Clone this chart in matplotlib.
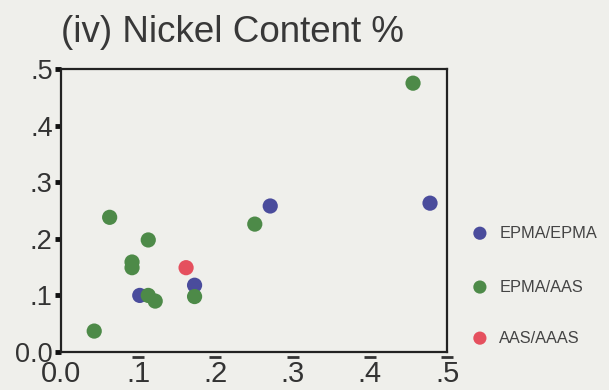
import numpy as np
import matplotlib.pyplot as plt
import matplotlib.transforms as mtransforms

# valores
epma_epma_x = [0.478, 0.271, 0.173, 0.102]
epma_epma_y = [0.263, 0.258, 0.118, 0.100]
epma_aas_x = [0.456, 0.251, 0.063, 0.113, 0.092, 0.092, 0.173, 0.113, 0.122, 0.043]
epma_aas_y = [0.475, 0.226, 0.238, 0.198, 0.159, 0.149, 0.098, 0.100, 0.090, 0.037]
aas_aaas_x = [0.162]
aas_aaas_y = [0.149]

series_labels = ['EPMA/EPMA', 'EPMA/AAS', 'AAS/AAAS']
series_colors = ['#4a4c9c', '#4d8a48', '#e5505e']
tick_vals = [0.0, 0.1, 0.2, 0.3, 0.4, 0.5]
tick_labels = ['0.0', '.1', '.2', '.3', '.4', '.5']
ytick_labels = ['0.0', '.1', '.2', '.3', '.4', '.5']

plt.rcParams['font.family'] = ['Liberation Sans', 'DejaVu Sans']
bg = '#efefeb'
fig = plt.figure(figsize=(6.09, 3.90), dpi=100, facecolor=bg)
ax = fig.add_axes([0.1002, 0.0974, 0.6338, 0.7256], facecolor=bg)

dados = [(epma_epma_x, epma_epma_y), (epma_aas_x, epma_aas_y), (aas_aaas_x, aas_aaas_y)]
for (xs, ys), cor in zip(dados, series_colors):
    ax.scatter(xs, ys, s=120, color=cor, edgecolors='none', zorder=3)

ax.set_xlim(0, 0.5)
ax.set_ylim(0, 0.5)
for sp in ax.spines.values():
    sp.set_linewidth(1.6)
    sp.set_color('#222222')

ax.set_yticks(tick_vals)
ax.set_yticklabels(ytick_labels)
ax.set_xticks(tick_vals)
ax.set_xticklabels(tick_labels)
ax.tick_params(axis='y', direction='out', length=4, width=3.5, color='#111111',
               labelsize=19.5, pad=2, labelcolor='#333333')
ax.tick_params(axis='x', length=0, labelsize=21, pad=6, labelcolor='#333333')

# marcas do eixo x: pequenos traços abaixo da linha
trans = mtransforms.blended_transform_factory(ax.transData, ax.transAxes)
ax.plot(tick_vals[1:], [-0.018] * 5, linestyle='none', marker='_', markersize=8,
        markeredgewidth=2, color='#333333', transform=trans, clip_on=False)

fig.text(0.100, 0.892, '(iv) Nickel Content %', fontsize=26.5, color='#383838',
         va='baseline')

# legenda manual
leg_y = [0.402, 0.264, 0.133]
for yy, lab in zip(leg_y, series_labels):
    fig.text(0.82, yy, lab, fontsize=11.8, color='#444444', va='center')
leg_ax = fig.add_axes([0, 0, 1, 1], facecolor='none')
leg_ax.set_xlim(0, 1)
leg_ax.set_ylim(0, 1)
leg_ax.axis('off')
leg_ax.scatter([0.788] * 3, leg_y, s=90, color=series_colors, edgecolors='none')

fig.savefig('out.png', dpi=100, facecolor=bg)
